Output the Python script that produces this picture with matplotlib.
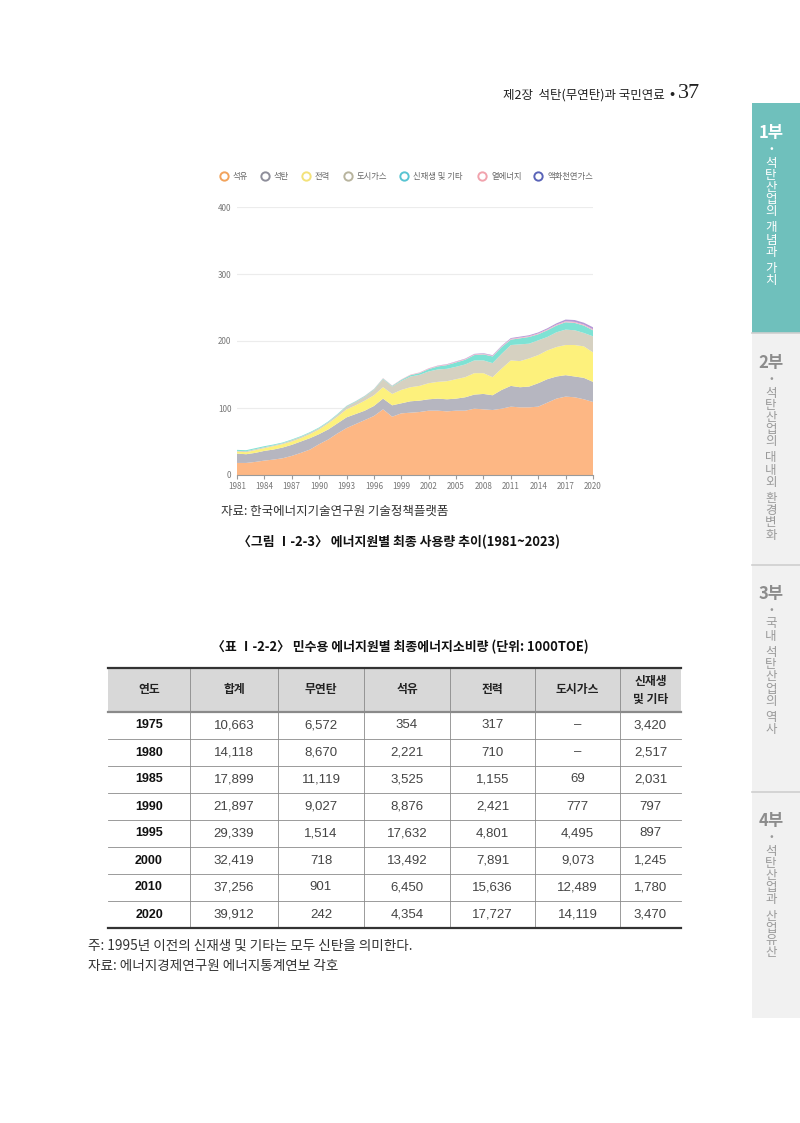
import matplotlib
matplotlib.use("Agg")
import matplotlib.pyplot as plt
from matplotlib.patches import Rectangle

plt.rcParams['font.family'] = ['Noto Sans CJK KR', 'DejaVu Sans']

# ---------------- chart data ----------------
years = list(range(1981, 2021))
oil = [18, 18, 19.5, 21.5, 23, 25, 28.5, 33, 38, 46, 53, 62, 70, 76, 82, 88, 98, 87, 92, 93,
       94, 96, 96, 95, 96, 96, 99, 98, 97, 99, 102, 101, 101, 102, 108, 114, 117, 116, 113, 109]
coal = [14, 13, 13.5, 14.5, 15, 16, 16.5, 17, 17, 15, 15, 15, 16, 15, 14, 15, 16, 17, 15, 17,
        17, 17, 18, 18, 18, 20, 21, 23, 22, 28, 31, 30, 31, 35, 35, 33, 32, 31, 32, 30]
elec = [3, 3, 4, 4, 5, 5, 5, 5, 6, 7, 9, 10, 12, 13, 15, 16, 17, 17, 20, 21,
        22, 24, 25, 27, 29, 30, 32, 31, 27, 32, 38, 39, 42, 42, 43, 44, 45, 47, 47, 44]
citygas = [1, 1.5, 1.5, 1.5, 1.3, 1.5, 2, 2, 2, 2, 2, 3, 4, 5, 6, 8, 12, 11, 13.5, 16,
           16.5, 17.5, 18.5, 18.5, 18.5, 19, 19, 19, 21, 22, 23, 25, 22, 22, 20, 22, 23, 22, 20, 24]
renew = [1.5, 1.5, 1.5, 1.5, 1.2, 1, 1, 1, 1, 1, 1, 1, 1, 1, 1, 1, 1, 1, 1.5, 2,
         2.5, 3.5, 4.5, 5.5, 6.5, 7, 8, 9, 10, 10, 8, 9, 10, 9, 10, 10, 11, 11, 11, 9]
heat = [0, 0, 0, 0, 0, 0, 0, 0, 0, 0, 0, 0, 0.3, 0.3, 0.4, 0.5, 0.6, 0.6, 0.7, 0.8,
        0.9, 1, 1, 1, 1, 1, 1, 1, 1, 1, 1.2, 1.2, 1.2, 1.3, 1.3, 1.4, 1.5, 1.5, 1.5, 1.5]
lng = [0, 0, 0, 0, 0, 0, 0, 0, 0, 0, 0, 0, 0, 0, 0, 0, 0, 0, 0, 0,
       0.2, 0.3, 0.4, 0.5, 0.6, 0.7, 0.8, 0.8, 0.9, 1.0, 1.2, 1.3, 1.4, 1.5, 1.7, 2.0, 2.5, 2.8, 2.8, 3.0]
series_names = ['석유', '석탄', '전력', '도시가스', '신재생 및 기타', '열에너지', '액화천연가스']
fill_colors = ['#fdb784', '#b6b6c0', '#fdf17c', '#d6d1c1', '#7ee2d4', '#f4b4c4', '#b69ad6']
legend_edges = ['#f2a35c', '#8e8e9a', '#f3e27a', '#b8b49e', '#58c4d2', '#f1a3ad', '#5a64b8']

# ---------------- table data ----------------
tbl_header = ['연도', '합계', '무연탄', '석유', '전력', '도시가스', '신재생\n및 기타']
tbl_years = ['1975', '1980', '1985', '1990', '1995', '2000', '2010', '2020']
tbl_total = ['10,663', '14,118', '17,899', '21,897', '29,339', '32,419', '37,256', '39,912']
tbl_anthracite = ['6,572', '8,670', '11,119', '9,027', '1,514', '718', '901', '242']
tbl_oil = ['354', '2,221', '3,525', '8,876', '17,632', '13,492', '6,450', '4,354']
tbl_elec = ['317', '710', '1,155', '2,421', '4,801', '7,891', '15,636', '17,727']
tbl_gas = ['–', '–', '69', '777', '4,495', '9,073', '12,489', '14,119']
tbl_renew = ['3,420', '2,517', '2,031', '797', '897', '1,245', '1,780', '3,470']

W, H = 800, 1123
fig = plt.figure(figsize=(W / 100, H / 100), dpi=100)
page = fig.add_axes([0, 0, 1, 1])
page.set_xlim(0, W)
page.set_ylim(H, 0)
page.axis('off')

# ---------------- running header ----------------
page.text(665, 95, '제2장  석탄(무연탄)과 국민연료', fontsize=9, ha='right', va='center', color='#222222')
page.text(672, 95, '•', fontsize=11, ha='center', va='center', color='#222222')
page.text(678, 94, '37', fontsize=16, ha='left', va='center', color='#222222', family='Liberation Serif')

# ---------------- side tabs ----------------
page.add_patch(Rectangle((752, 103), 48, 230, facecolor='#6fc0bc', edgecolor='none'))
page.add_patch(Rectangle((752, 333), 48, 685, facecolor='#f1f1f1', edgecolor='none'))
for yy in (333, 565, 792):
    page.plot([752, 800], [yy, yy], color='#cfcfcf', lw=1.2)

def side_tab(y0, num, title, col, numcol):
    page.text(771, y0, num, fontsize=12, fontweight='bold', ha='center', va='center', color=numcol)
    page.text(771, y0 + 16, '•', fontsize=8, ha='center', va='center', color=col)
    y = y0 + 30
    for ch in title:
        if ch == ' ':
            y += 4
            continue
        page.text(771, y, ch, fontsize=9, ha='center', va='center', color=col)
        y += 12.2

side_tab(133, '1부', '석탄산업의 개념과 가치', 'white', 'white')
side_tab(363, '2부', '석탄산업의 대내외 환경변화', '#9a9a9a', '#8c8c8c')
side_tab(594, '3부', '국내 석탄산업의 역사', '#9a9a9a', '#8c8c8c')
side_tab(821, '4부', '석탄산업과 산업유산', '#9a9a9a', '#8c8c8c')

# ---------------- chart legend ----------------
circ_x = [224, 265, 306, 348, 404, 482, 538]
lab_x = [233, 274, 315, 357, 413, 491, 547]
for cx, lx, name, ec in zip(circ_x, lab_x, series_names, legend_edges):
    page.plot([cx], [176], marker='o', markersize=6, markerfacecolor='white',
              markeredgecolor=ec, markeredgewidth=1.4)
    page.text(lx, 176.5, name, fontsize=6, ha='left', va='center', color='#666666')

# ---------------- stacked area chart ----------------
ax = fig.add_axes([237 / W, 1 - 475 / H, (593 - 237) / W, (475 - 207) / H])
ax.stackplot(years, oil, coal, elec, citygas, renew, heat, lng, colors=fill_colors, linewidth=0)
ax.set_xlim(1981, 2020)
ax.set_ylim(0, 400)
ax.set_yticks([0, 100, 200, 300, 400])
ax.set_xticks(list(range(1981, 2021, 3)))
ax.grid(axis='y', color='#ececec', lw=0.8)
ax.set_axisbelow(True)
for s in ('top', 'right', 'left'):
    ax.spines[s].set_visible(False)
ax.spines['bottom'].set_color('#9a9a9a')
ax.spines['bottom'].set_linewidth(0.8)
ax.tick_params(axis='y', length=0, labelsize=5.8, labelcolor='#777777', pad=4)
ax.tick_params(axis='x', length=3, color='#9a9a9a', labelsize=5.8, labelcolor='#777777', pad=2)
ax.set_facecolor('none')

# ---------------- chart source & caption ----------------
page.text(221, 511, '자료: 한국에너지기술연구원 기술정책플랫폼', fontsize=9, ha='left', va='center', color='#333333')
page.text(399, 542, '〈그림 Ⅰ-2-3〉 에너지원별 최종 사용량 추이(1981~2023)', fontsize=9.3,
          fontweight='bold', ha='center', va='center', color='#111111')

# ---------------- table ----------------
page.text(400, 647, '〈표 Ⅰ-2-2〉 민수용 에너지원별 최종에너지소비량 (단위: 1000TOE)', fontsize=9.3,
          fontweight='bold', ha='center', va='center', color='#111111')

col_edges = [108, 190, 278, 364, 450, 535, 620, 681]
head_top, head_bot = 668, 712
row_h = 27.0
n_rows = len(tbl_years)
bottom = head_bot + row_h * n_rows

page.add_patch(Rectangle((col_edges[0], head_top), col_edges[-1] - col_edges[0], head_bot - head_top,
                         facecolor='#d8d8d8', edgecolor='none'))
for xe in col_edges[1:-1]:
    page.plot([xe, xe], [head_top, bottom], color='#8a8a8a', lw=0.6)
for i in range(1, n_rows):
    yy = head_bot + i * row_h
    page.plot([col_edges[0], col_edges[-1]], [yy, yy], color='#8a8a8a', lw=0.6)
page.plot([col_edges[0], col_edges[-1]], [head_top, head_top], color='#333333', lw=1.6)
page.plot([col_edges[0], col_edges[-1]], [head_bot, head_bot], color='#8a8a8a', lw=1.6)
page.plot([col_edges[0], col_edges[-1]], [bottom, bottom], color='#333333', lw=1.6)

centers = [(a + b) / 2 for a, b in zip(col_edges[:-1], col_edges[1:])]
for cxx, h in zip(centers, tbl_header):
    page.text(cxx, (head_top + head_bot) / 2, h, fontsize=8.5, fontweight='bold', ha='center',
              va='center', color='#222222', linespacing=1.5)

num_font = ['Liberation Sans Narrow', 'Liberation Sans', 'DejaVu Sans']
cols = [tbl_years, tbl_total, tbl_anthracite, tbl_oil, tbl_elec, tbl_gas, tbl_renew]
for ci, colvals in enumerate(cols):
    for ri, v in enumerate(colvals):
        yy = head_bot + (ri + 0.5) * row_h
        if ci == 0:
            page.text(centers[ci], yy, v, fontsize=9, fontweight='bold', ha='center', va='center',
                      color='#111111', family=num_font)
        else:
            page.text(centers[ci], yy, v, fontsize=9.5, ha='center', va='center',
                      color='#444444', family=num_font)

page.text(88, 946, '주: 1995년 이전의 신재생 및 기타는 모두 신탄을 의미한다.', fontsize=9.8,
          ha='left', va='center', color='#333333')
page.text(88, 966, '자료: 에너지경제연구원 에너지통계연보 각호', fontsize=9.8,
          ha='left', va='center', color='#333333')

fig.savefig('out.png', dpi=100)
